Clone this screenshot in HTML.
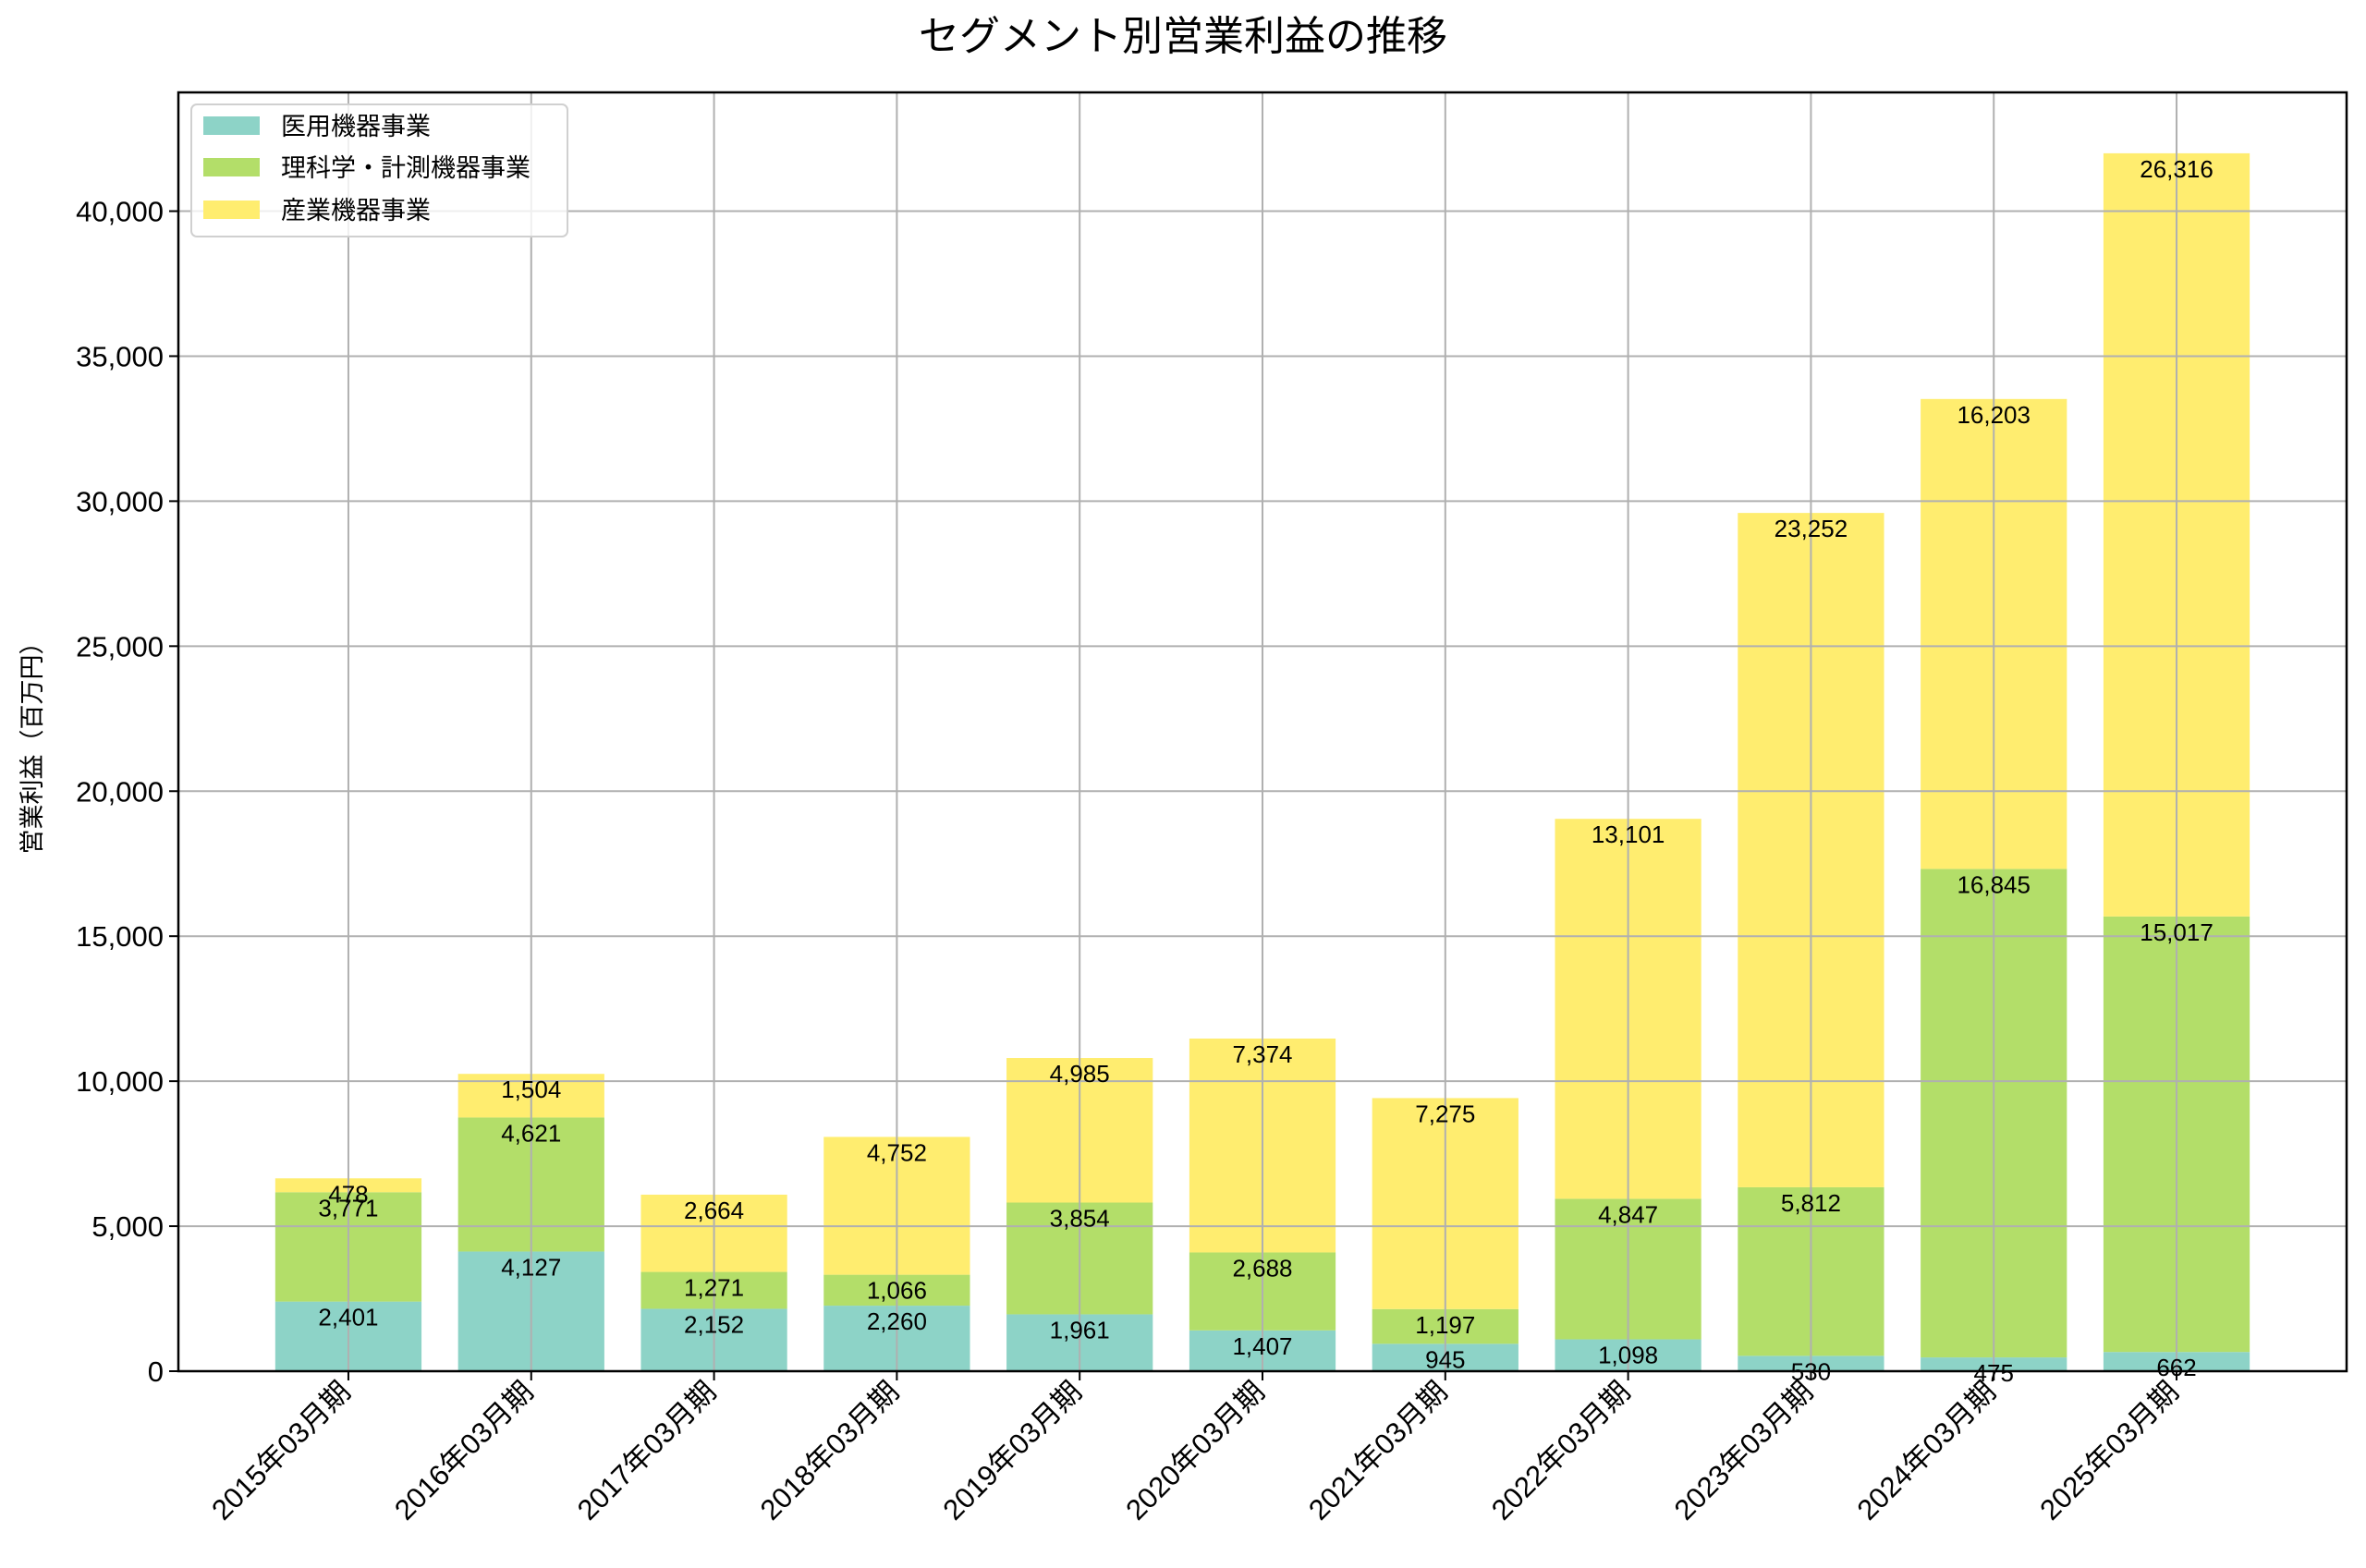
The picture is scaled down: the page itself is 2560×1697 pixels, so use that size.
<!DOCTYPE html>
<html><head><meta charset="utf-8">
<style>
html,body{margin:0;padding:0;background:#fff;}
svg{display:block;font-family:"Liberation Sans","Noto Sans CJK JP",sans-serif;}
</style></head>
<body>
<svg id="chart" width="2560" height="1697" viewBox="0 0 2560 1697" xmlns="http://www.w3.org/2000/svg">
<rect width="2560" height="1697" fill="#fff"/>
<text x="1280" y="54" font-size="44" text-anchor="middle" fill="#000">セグメント別営業利益の推移</text>
<text transform="translate(44,803) rotate(-90)" font-size="27" text-anchor="middle" fill="#000">営業利益（百万円）</text>
<g id="bars"></g>
<g id="grid"></g>
<g id="labels"></g>
<g id="axes"></g>
<g>
<rect x="207" y="113" width="407" height="143" rx="6" fill="#fff" fill-opacity="0.8" stroke="#d0d0d0" stroke-width="2"/>
<rect x="220" y="126" width="61" height="20" fill="#8dd3c7"/>
<text x="304" y="146" font-size="27">医用機器事業</text>
<rect x="220" y="171" width="61" height="20" fill="#b3de69"/>
<text x="304" y="191" font-size="27">理科学・計測機器事業</text>
<rect x="220" y="217" width="61" height="20" fill="#ffed6f"/>
<text x="304" y="237" font-size="27">産業機器事業</text>
</g>
</svg>
<script>
const categories = ["2015年03月期","2016年03月期","2017年03月期","2018年03月期","2019年03月期","2020年03月期","2021年03月期","2022年03月期","2023年03月期","2024年03月期","2025年03月期"];
const medical = [2401,4127,2152,2260,1961,1407,945,1098,530,475,662];
const science = [3771,4621,1271,1066,3854,2688,1197,4847,5812,16845,15017];
const industrial = [478,1504,2664,4752,4985,7374,7275,13101,23252,16203,26316];
const yTicks = [0,5000,10000,15000,20000,25000,30000,35000,40000];

const NS = "http://www.w3.org/2000/svg";
const L = 193, R = 2539, T = 100, B = 1484;
const totals = categories.map((c,i)=>medical[i]+science[i]+industrial[i]);
const yMax = Math.max(...totals)*1.05;
const n = categories.length;
const xMin = -0.93, xMax = n - 1 + 0.93;
function xs(v){ return L + (v - xMin)/(xMax - xMin)*(R - L); }
function ys(v){ return B - v/yMax*(B - T); }
const bw = (xs(1)-xs(0))*0.8;
function mk(tag, attrs, parent){ const e=document.createElementNS(NS,tag); for(const k in attrs) e.setAttribute(k,attrs[k]); parent.appendChild(e); return e; }
const gBars=document.getElementById('bars'), gGrid=document.getElementById('grid'), gLab=document.getElementById('labels'), gAx=document.getElementById('axes');
const series=[{d:medical,c:"#8dd3c7",k:"medical"},{d:science,c:"#b3de69",k:"science"},{d:industrial,c:"#ffed6f",k:"industrial"}];
categories.forEach((cat,i)=>{
  let base=0;
  series.forEach(s=>{
    const v=s.d[i];
    const y0=ys(base), y1=ys(base+v);
    const r=mk('rect',{x:xs(i)-bw/2,y:y1,width:bw,height:y0-y1,fill:s.c},gBars);
    
    
    const t=mk('text',{x:xs(i),y:y1+26,'font-size':26,'text-anchor':'middle',fill:'#000'},gLab);
    t.textContent=v.toLocaleString('en-US');
    
    
    base+=v;
  });
});
// grid
yTicks.forEach(v=>{
  const l=mk('line',{x1:L,x2:R,y1:ys(v),y2:ys(v),stroke:'#b0b0b0','stroke-width':2},gGrid);
  
  
  const tk=mk('line',{x1:L-10,x2:L,y1:ys(v),y2:ys(v),stroke:'#000','stroke-width':2},gAx);
  
  
  const t=mk('text',{x:L-16,y:ys(v)+11,'font-size':31,'text-anchor':'end',fill:'#000'},gAx);
  t.textContent=v.toLocaleString('en-US');
  
  
});
categories.forEach((cat,i)=>{
  const x=xs(i);
  const l=mk('line',{x1:x,x2:x,y1:T,y2:B,stroke:'#b0b0b0','stroke-width':2},gGrid);
  
  
  const tk=mk('line',{x1:x,x2:x,y1:B,y2:B+10,stroke:'#000','stroke-width':2},gAx);
  
  
  const t=mk('text',{transform:'translate('+(x+4)+','+(B+24)+') rotate(-45)','font-size':31,'text-anchor':'end',fill:'#000'},gAx);
  t.textContent=cat;
  
  
});
const frame=mk('rect',{x:L,y:T,width:R-L,height:B-T,fill:'none',stroke:'#000','stroke-width':2.5},gAx);


</script>
</body></html>
